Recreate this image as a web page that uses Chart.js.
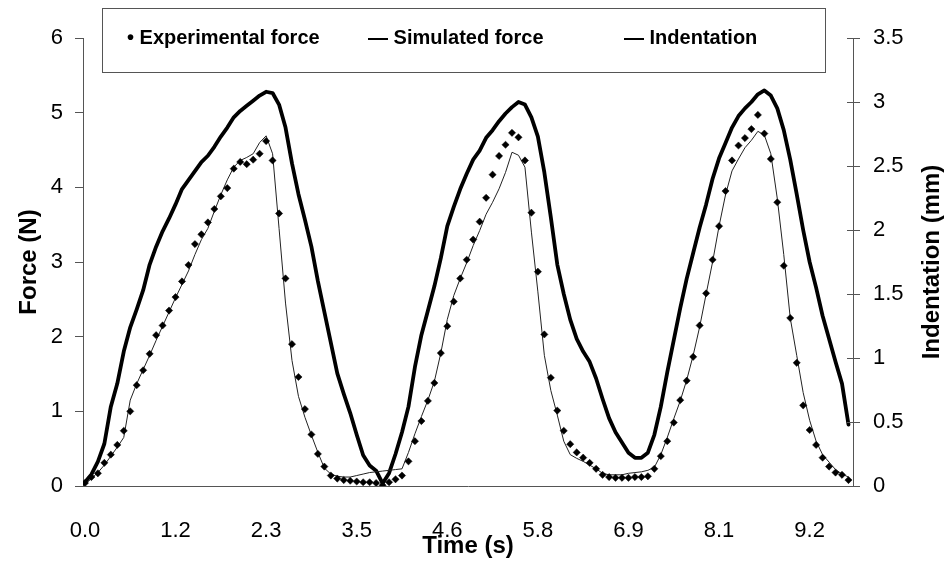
<!DOCTYPE html>
<html>
<head>
<meta charset="utf-8">
<title>Force and indentation vs time</title>
<script src="https://cdn.jsdelivr.net/npm/chart.js@4.4.1/dist/chart.umd.min.js"></script>
<style>
  html, body { margin: 0; padding: 0; background: #fff; }
  #wrap { width: 950px; height: 567px; }
</style>
</head>
<body>
<div id="wrap"><canvas id="chart" width="950" height="567"></canvas></div>
<script>
// x axis: one sample per category, a time label every 14 samples
const TIME_LABELS = ['0.0', '1.2', '2.3', '3.5', '4.6', '5.8', '6.9', '8.1', '9.2'];
const SAMPLES_PER_LABEL = 14;

// Force (N)
const EXP_FORCE = [
  0.04, 0.12, 0.17, 0.31, 0.42, 0.55, 0.74, 1.00, 1.35, 1.55,
  1.77, 2.02, 2.15, 2.35, 2.53, 2.74, 2.96, 3.24, 3.37, 3.53,
  3.71, 3.88, 3.99, 4.25, 4.34, 4.31, 4.37, 4.45, 4.62, 4.36,
  3.65, 2.78, 1.90, 1.46, 1.03, 0.69, 0.43, 0.26, 0.14, 0.10,
  0.08, 0.07, 0.06, 0.05, 0.05, 0.04, 0.01, 0.05, 0.09, 0.14,
  0.33, 0.60, 0.87, 1.14, 1.38, 1.78, 2.14, 2.47, 2.78, 3.03,
  3.30, 3.54, 3.86, 4.17, 4.42, 4.57, 4.73, 4.67, 4.36, 3.66,
  2.87, 2.03, 1.45, 1.01, 0.74, 0.56, 0.45, 0.38, 0.31, 0.23,
  0.15, 0.12, 0.11, 0.11, 0.11, 0.12, 0.12, 0.13, 0.23, 0.40,
  0.60, 0.85, 1.15, 1.41, 1.73, 2.15, 2.58, 3.03, 3.48, 3.95,
  4.36, 4.56, 4.66, 4.78, 4.97, 4.72, 4.38, 3.80, 2.95, 2.25,
  1.65, 1.08, 0.75, 0.55, 0.38, 0.26, 0.18, 0.15, 0.08,
];

const SIM_FORCE = [
  0.02, 0.10, 0.18, 0.28, 0.40, 0.52, 0.65, 1.15, 1.37, 1.56,
  1.75, 1.95, 2.14, 2.33, 2.52, 2.70, 2.88, 3.10, 3.30, 3.45,
  3.68, 3.90, 4.10, 4.27, 4.36, 4.40, 4.45, 4.60, 4.69, 4.45,
  3.45, 2.45, 1.68, 1.20, 0.92, 0.68, 0.45, 0.24, 0.16, 0.13,
  0.12, 0.12, 0.14, 0.16, 0.18, 0.19, 0.20, 0.21, 0.22, 0.23,
  0.45, 0.70, 0.93, 1.15, 1.40, 1.78, 2.23, 2.55, 2.78, 2.99,
  3.22, 3.42, 3.64, 3.80, 3.98, 4.20, 4.47, 4.43, 4.27, 3.40,
  2.60, 1.75, 1.28, 0.95, 0.60, 0.42, 0.37, 0.33, 0.28, 0.23,
  0.17, 0.15, 0.15, 0.15, 0.17, 0.18, 0.19, 0.21, 0.25, 0.42,
  0.65, 0.90, 1.14, 1.42, 1.75, 2.13, 2.57, 3.00, 3.48, 3.90,
  4.22, 4.38, 4.53, 4.63, 4.75, 4.70, 4.45, 3.85, 3.10, 2.25,
  1.75, 1.25, 0.88, 0.60, 0.42, 0.32, 0.22, 0.16, 0.12,
];

// Indentation (mm), right axis
const INDENTATION = [
  0.03, 0.09, 0.19, 0.33, 0.62, 0.80, 1.05, 1.24, 1.38, 1.53,
  1.73, 1.87, 1.99, 2.09, 2.20, 2.32, 2.39, 2.46, 2.53, 2.58,
  2.65, 2.73, 2.80, 2.88, 2.93, 2.97, 3.01, 3.05, 3.08, 3.07,
  2.98, 2.80, 2.52, 2.28, 2.08, 1.87, 1.60, 1.36, 1.12, 0.88,
  0.72, 0.57, 0.40, 0.24, 0.16, 0.12, 0.02, 0.10, 0.25, 0.42,
  0.62, 0.93, 1.18, 1.37, 1.56, 1.78, 2.03, 2.18, 2.32, 2.44,
  2.55, 2.62, 2.72, 2.78, 2.85, 2.91, 2.96, 3.00, 2.98, 2.88,
  2.73, 2.45, 2.10, 1.73, 1.50, 1.30, 1.15, 1.05, 0.97, 0.84,
  0.68, 0.53, 0.42, 0.34, 0.26, 0.22, 0.22, 0.26, 0.40, 0.62,
  0.89, 1.14, 1.39, 1.62, 1.82, 2.02, 2.20, 2.40, 2.56, 2.68,
  2.80, 2.89, 2.95, 3.00, 3.06, 3.09, 3.05, 2.95, 2.78, 2.55,
  2.28, 2.00, 1.75, 1.55, 1.33, 1.15, 0.97, 0.80, 0.48,
];

const LEGEND_ITEMS = ['• Experimental force', '— Simulated force', '— Indentation'];
const RIGHT_TITLE = 'Indentation (mm)';

const FONT = "'Liberation Sans', Arial, sans-serif";
const AXIS_COLOR = '#555';

// boxed legend sitting over the top of the plot
const legendBox = {
  id: 'legendBox',
  afterDraw(chart) {
    const ctx = chart.ctx;
    const xs = [127, 368, 624];
    ctx.save();
    ctx.fillStyle = '#fff';
    ctx.strokeStyle = AXIS_COLOR;
    ctx.lineWidth = 1;
    ctx.fillRect(102.5, 8.5, 723, 64);
    ctx.strokeRect(102.5, 8.5, 723, 64);
    ctx.fillStyle = '#000';
    ctx.font = `bold 20px ${FONT}`;
    ctx.textBaseline = 'middle';
    LEGEND_ITEMS.forEach((t, i) => ctx.fillText(t, xs[i], 38));
    ctx.restore();
  },
};

// right axis: ticks cross the line, title reads bottom-to-top like Excel
const rightAxisExtras = {
  id: 'rightAxisExtras',
  afterDraw(chart) {
    const s = chart.scales.y2;
    const ctx = chart.ctx;
    ctx.save();
    ctx.strokeStyle = AXIS_COLOR;
    ctx.lineWidth = 1;
    ctx.beginPath();
    s.ticks.forEach((t) => {
      const y = Math.round(s.getPixelForValue(t.value)) + 0.5;
      ctx.moveTo(s.left - 6, y);
      ctx.lineTo(s.left, y);
    });
    ctx.stroke();

    const area = chart.chartArea;
    ctx.translate(932, (area.top + area.bottom) / 2);
    ctx.rotate(-Math.PI / 2);
    ctx.fillStyle = '#000';
    ctx.font = `bold 24px ${FONT}`;
    ctx.textAlign = 'center';
    ctx.textBaseline = 'middle';
    ctx.fillText(RIGHT_TITLE, 0, 0);
    ctx.restore();
  },
};

new Chart(document.getElementById('chart'), {
  type: 'line',
  data: {
    labels: EXP_FORCE.map((_, i) => i),
    datasets: [
      {
        label: 'Experimental force',
        data: EXP_FORCE,
        yAxisID: 'y',
        showLine: false,
        pointStyle: 'rectRot',
        pointRadius: 3.6,
        pointBackgroundColor: '#000',
        pointBorderColor: '#000',
        pointBorderWidth: 0.5,
        order: 0,
      },
      {
        label: 'Simulated force',
        data: SIM_FORCE,
        yAxisID: 'y',
        borderColor: '#222',
        borderWidth: 1,
        pointRadius: 0,
        tension: 0,
        order: 1,
      },
      {
        label: 'Indentation',
        data: INDENTATION,
        yAxisID: 'y2',
        borderColor: '#000',
        borderWidth: 3.8,
        borderJoinStyle: 'round',
        borderCapStyle: 'round',
        pointRadius: 0,
        tension: 0,
        order: 2,
      },
    ],
  },
  options: {
    responsive: false,
    animation: false,
    events: [],
    layout: { padding: { top: 38, left: 0, right: 0, bottom: 0 } },
    plugins: { legend: { display: false }, tooltip: { enabled: false } },
    scales: {
      x: {
        type: 'linear',
        min: -0.3,
        max: 118.7,
        afterBuildTicks: (s) => {
          s.ticks = TIME_LABELS.map((_, k) => ({ value: k * SAMPLES_PER_LABEL }));
        },
        afterFit: (s) => { s.height = 81; },
        grid: { display: false },
        border: { display: true, color: AXIS_COLOR },
        ticks: {
          autoSkip: false,
          maxRotation: 0,
          padding: 24,
          color: '#000',
          font: { family: FONT, size: 22 },
          callback: (v) => TIME_LABELS[v / SAMPLES_PER_LABEL],
        },
        title: {
          display: true,
          text: 'Time (s)',
          color: '#000',
          font: { family: FONT, size: 24, weight: 'bold' },
          padding: { top: 0, bottom: 6 },
        },
      },
      y: {
        position: 'left',
        min: 0,
        max: 6,
        afterFit: (s) => { s.width = 83; },
        grid: { drawOnChartArea: false, tickLength: 8, color: AXIS_COLOR },
        border: { display: true, color: AXIS_COLOR },
        ticks: { stepSize: 1, padding: 12, color: '#000', font: { family: FONT, size: 22 } },
        title: {
          display: true,
          text: 'Force (N)',
          color: '#000',
          font: { family: FONT, size: 24, weight: 'bold' },
          padding: { top: 15, bottom: 0 },
        },
      },
      y2: {
        position: 'right',
        min: 0,
        max: 3.5,
        afterFit: (s) => { s.width = 97; },
        grid: { drawOnChartArea: false, tickLength: 7, color: AXIS_COLOR },
        border: { display: true, color: AXIS_COLOR },
        ticks: {
          stepSize: 0.5,
          padding: 13,
          color: '#000',
          font: { family: FONT, size: 22 },
          callback: (v) => String(Math.round(v * 10) / 10),
        },
      },
    },
  },
  plugins: [legendBox, rightAxisExtras],
});
</script>
</body>
</html>
